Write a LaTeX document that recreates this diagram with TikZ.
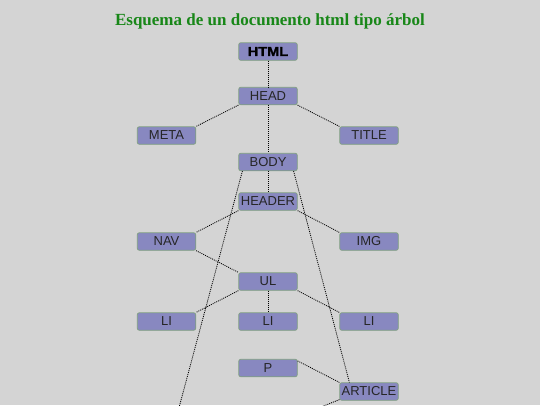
\documentclass[tikz,border=0pt]{standalone}
\usepackage{fontspec}
\setmainfont{Liberation Serif}
\setsansfont{Liberation Sans}
\newfontfamily\heavyfont{Liberation Sans Bold}[FakeBold=1.2, FakeStretch=1.12]
\definecolor{bg}{RGB}{212,212,212}
\definecolor{boxfill}{RGB}{136,136,192}
\definecolor{boxline}{RGB}{128,160,128}
\definecolor{titlegreen}{RGB}{24,135,24}
\tikzset{
  tag/.style={rectangle, rounded corners=2pt, minimum width=58.5pt, minimum height=17.5pt,
    inner sep=0pt, fill=boxfill, draw=boxline, line width=0.7pt,
    font=\sffamily\fontsize{13}{13}\selectfont, text=black!85},
  link/.style={draw=black, line width=0.8pt, dash pattern=on 1pt off 1pt}
}
\begin{document}
\begin{tikzpicture}[x=1pt,y=-1pt]
\path[clip] (0,0) rectangle (540,405);
\fill[bg] (0,0) rectangle (540,405);
\node[font=\rmfamily\bfseries\fontsize{17}{17}\selectfont, text=titlegreen] (ttl) at (270,21) {Esquema de un documento html tipo árbol};
\node[tag, font=\heavyfont\fontsize{13}{13}\selectfont, text=black] (html) at (268,51.5) {HTML};
\node[tag] (head) at (268,96) {HEAD};
\node[tag] (meta) at (166.5,135.5) {META};
\node[tag] (title) at (369,135.5) {TITLE};
\node[tag] (body) at (268,162) {BODY};
\node[tag] (header) at (268,201.5) {HEADER};
\node[tag] (nav) at (166.5,241.5) {NAV};
\node[tag] (img) at (369,241.5) {IMG};
\node[tag] (ul) at (268,281.5) {UL};
\node[tag] (lia) at (166.5,321.5) {LI};
\node[tag] (lib) at (268,321.5) {LI};
\node[tag] (lic) at (369,321.5) {LI};
\node[tag] (p) at (268,368) {P};
\node[tag] (article) at (369,391.5) {ARTICLE};
\coordinate (offl) at (175.7,420);
\coordinate (offr) at (301,415);
\path[link] (html.south) -- (head.north);
\path[link] (head.south west) -- (meta.north east);
\path[link] (head.south east) -- (title.north west);
\path[link] (head.south) -- (body.north);
\path[link] (body.south) -- (header.north);
\path[link] ([xshift=4pt]body.south west) -- (offl);
\path[link] ([xshift=-4pt]body.south east) -- ([xshift=10pt]article.north west);
\path[link] (header.south west) -- (nav.north east);
\path[link] (header.south east) -- (img.north west);
\path[link] (nav.south east) -- (ul.north west);
\path[link] (ul.south west) -- (lia.north east);
\path[link] (ul.south) -- (lib.north);
\path[link] (ul.south east) -- (lic.north west);
\path[link] ([yshift=-2pt]p.north east) -- (article.north west);
\path[link] ([yshift=1pt]article.south west) -- (offr);
\end{tikzpicture}
\end{document}
